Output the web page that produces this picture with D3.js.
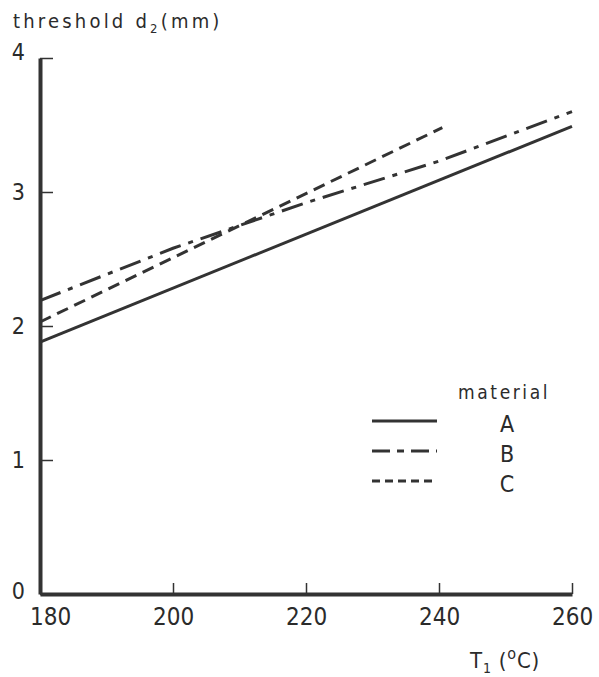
<!DOCTYPE html>
<html>
<head>
<meta charset="utf-8">
<script src="https://cdn.jsdelivr.net/npm/d3@7"></script>
<style>
  body { margin: 0; background: #fff; }
  text { font-family: "DejaVu Sans Condensed", "DejaVu Sans", sans-serif; fill: #2b2b2b; }
</style>
</head>
<body>
<div id="chart"></div>
<script>
// values
const xTicks = [180, 200, 220, 240, 260];
const yTicks = [0, 1, 2, 3, 4];
const materials = ["A", "B", "C"];
const tempsA = [180, 260];
const valsA = [1.88, 3.49];
const tempsB = [180, 200, 220, 240, 260];
const valsB = [2.19, 2.58, 2.92, 3.23, 3.60];
const tempsC = [180, 240.5];
const valsC = [2.03, 3.48];

const width = 599;
const height = 677;
const ink = "#333";

const x = d3.scaleLinear().domain([180, 260]).range([40, 572]);
const y = d3.scaleLinear().domain([0, 4]).range([594, 58]);

const svg = d3.select("#chart").append("svg")
    .attr("width", width)
    .attr("height", height);

// x axis, ticks pointing up into the plot
const xAxis = svg.append("g")
    .attr("transform", `translate(0,${y(0)})`)
    .call(d3.axisBottom(x).tickValues(xTicks).tickFormat(d3.format("d"))
        .tickSize(-11).tickSizeOuter(0).tickPadding(14));
xAxis.select(".domain").attr("stroke", ink).attr("stroke-width", 4);
xAxis.selectAll(".tick line").attr("stroke", ink).attr("stroke-width", 1.5);
xAxis.selectAll(".tick text")
    .attr("fill", "#2b2b2b")
    .style("font-size", "24px")
    .attr("font-family", null);
// first label is nudged right, clear of the corner
xAxis.selectAll(".tick text").filter(d => d === 180).attr("dx", 10);

// y axis, ticks pointing right
const yAxis = svg.append("g")
    .attr("transform", `translate(${x(180)},0)`)
    .call(d3.axisLeft(y).tickValues(yTicks).tickFormat(d3.format("d"))
        .tickSize(-13).tickSizeOuter(0).tickPadding(15));
yAxis.select(".domain").attr("stroke", ink).attr("stroke-width", 4);
yAxis.selectAll(".tick line").attr("stroke", ink).attr("stroke-width", 1.5);
yAxis.selectAll(".tick text")
    .attr("fill", "#2b2b2b")
    .style("font-size", "23px")
    .attr("font-family", null);
// the "4" sits just above its tick, the "0" a bit below
yAxis.selectAll(".tick text").filter(d => d === 4).attr("dy", "0.05em");
yAxis.selectAll(".tick text").filter(d => d === 0).attr("dy", "0.2em");

const line = d3.line()
    .x(d => x(d[0]))
    .y(d => y(d[1]));

const series = [
    { name: "A", pts: d3.zip(tempsA, valsA), dash: null },
    { name: "B", pts: d3.zip(tempsB, valsB), dash: "22,8,5,8" },
    { name: "C", pts: d3.zip(tempsC, valsC), dash: "12,7" }
];

svg.append("g")
    .selectAll("path")
    .data(series)
    .join("path")
    .attr("d", d => line(d.pts))
    .attr("fill", "none")
    .attr("stroke", ink)
    .attr("stroke-width", 3)
    .attr("stroke-dasharray", d => d.dash);

// titles
const title = svg.append("text")
    .attr("x", 13)
    .attr("y", 28)
    .style("font-size", "20px")
    .style("letter-spacing", "3.2px");
title.append("tspan").text("threshold d");
title.append("tspan").attr("dy", 5).style("font-size", "13px").text("2");
title.append("tspan").attr("dy", -5).text("(mm)");

const xLab = svg.append("text")
    .attr("x", 470)
    .attr("y", 668)
    .style("font-size", "22px")
    .style("letter-spacing", "0.8px");
xLab.append("tspan").text("T");
xLab.append("tspan").attr("dy", 5).style("font-size", "14px").text("1");
xLab.append("tspan").attr("dy", -5).text(" (");
xLab.append("tspan").attr("dy", -9).style("font-size", "16px").text("o");
xLab.append("tspan").attr("dy", 9).text("C)");

// legend
const legend = svg.append("g");
legend.append("text")
    .attr("x", 458)
    .attr("y", 399)
    .style("font-size", "19px")
    .style("letter-spacing", "2.6px")
    .text("material");

const legendY = d3.scalePoint().domain(materials).range([421, 481]);

legend.selectAll("line")
    .data(series)
    .join("line")
    .attr("x1", 372)
    .attr("x2", 437)
    .attr("y1", d => legendY(d.name))
    .attr("y2", d => legendY(d.name))
    .attr("stroke", ink)
    .attr("stroke-width", 3)
    .attr("stroke-dasharray", d => d.name === "B" ? "18,7,7,7" : d.name === "C" ? "8,5" : null);

legend.selectAll("text.key")
    .data(materials)
    .join("text")
    .attr("class", "key")
    .attr("x", 507)
    .attr("y", d => legendY(d) + 11)
    .attr("text-anchor", "middle")
    .style("font-size", "23px")
    .text(d => d);
</script>
</body>
</html>
